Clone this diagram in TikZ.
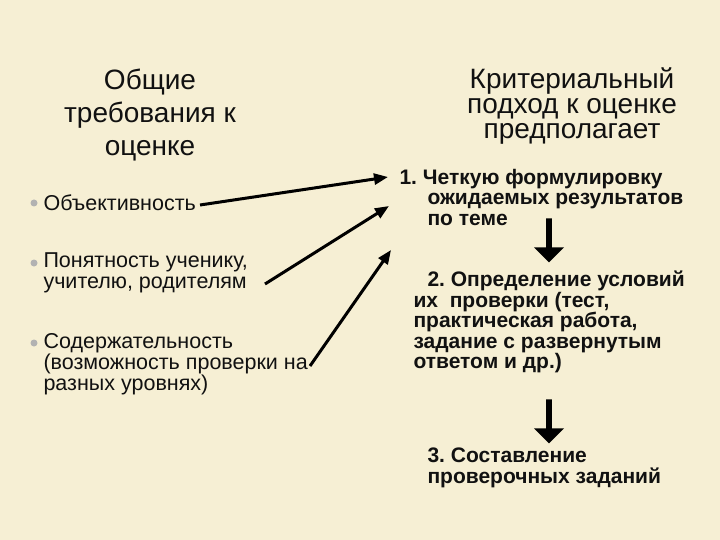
\documentclass[tikz,border=0pt]{standalone}
\usepackage{fontspec}
\setmainfont{Liberation Sans}
\usetikzlibrary{arrows.meta,shapes.arrows}
\definecolor{bg}{HTML}{F6EFD4}
\definecolor{tx}{HTML}{111111}
\frenchspacing
\tikzset{
 ttl/.style={align=center,font=\fontsize{28}{33}\selectfont,text=tx},
 lft/.style={anchor=west,font=\fontsize{21.5}{21}\selectfont,text=tx,align=left},
 rgt/.style={anchor=west,font=\bfseries\fontsize{21}{20.5}\selectfont,text=tx,align=left},
 bul/.style={circle,fill=gray!60,inner sep=0pt,minimum size=7pt},
 arr/.style={-{Triangle[length=14pt,width=11pt]},line width=3pt},
 darr/.style={single arrow,shape border rotate=270,fill=black,minimum height=44pt,minimum width=30pt,single arrow head extend=9pt,inner sep=2pt}
}
\begin{document}
\begin{tikzpicture}[x=1pt,y=-1pt]
\fill[bg] (0,0) rectangle (720,540);
\node[ttl] (t1) at (150,115) {Общие\\требования к\\оценке};
\node[ttl,font=\fontsize{28}{25}\selectfont] (t2) at (572,106) {Критериальный\\подход к оценке\\предполагает};
\node[bul] (b1) at (34,203) {};
\node[bul] (b2) at (34,263) {};
\node[bul] (b3) at (34,343) {};
\node[lft] (l1) at (40,203) {Объективность};
\node[lft] (l2) at (40,273) {Понятность ученику,\\учителю, родителям};
\node[lft] (l3) at (40,364) {Содержательность\\(возможность проверки на\\разных уровнях)};
\node[rgt] (r1) at (396,197) {1. Четкую формулировку\\\hspace*{28pt}ожидаемых результатов\\\hspace*{28pt}по теме};
\node[rgt] (r2) at (410,322) {\hspace*{14pt}2. Определение условий\\их\ \ проверки (тест,\\практическая работа,\\задание с развернутым\\ответом и др.)};
\node[rgt] (r3) at (424,468) {3. Составление\\проверочных заданий};
\coordinate (a1s) at (200,205); \coordinate (a1e) at (388,177);
\coordinate (a2s) at (265,284); \coordinate (a2e) at (389,206);
\coordinate (a3s) at (310,366); \coordinate (a3e) at (391,250);
\draw[arr] (a1s) -- (a1e);
\draw[arr] (a2s) -- (a2e);
\draw[arr] (a3s) -- (a3e);
\node[darr] (d1) at (549,239) {};
\node[darr] (d2) at (549,420) {};
\end{tikzpicture}
\end{document}
